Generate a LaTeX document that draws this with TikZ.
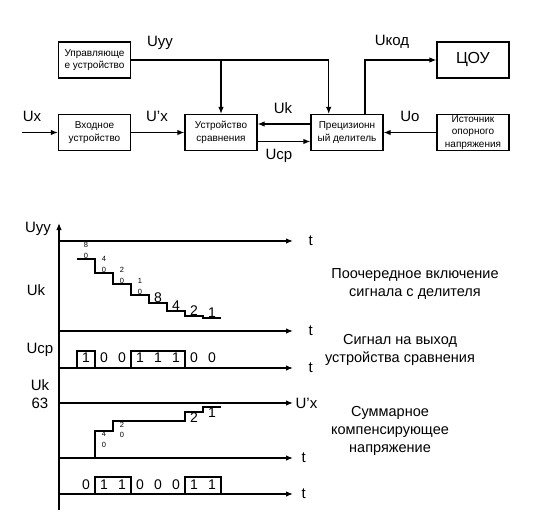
\documentclass[tikz,border=0pt]{standalone}
\usepackage{fontspec}
\setmainfont{Liberation Sans}
\usetikzlibrary{arrows.meta, calc}

\tikzset{
  blk/.style={draw, line width=1.2pt, minimum width=72pt, minimum height=36pt,
    inner sep=1pt, align=center, font=\fontsize{10}{12.5}\selectfont},
  sig/.style={line width=1.2pt, -{Latex[length=7pt,width=5.5pt]}},
  lbl/.style={font=\fontsize{15}{17}\selectfont, inner sep=0pt},
  axis/.style={line width=1.3pt, -{Latex[length=7pt,width=5.5pt]}},
  wave/.style={line width=1.2pt},
  dig/.style={font=\fontsize{14}{16}\selectfont, inner sep=0.6pt},
  small/.style={font=\fontsize{7.5}{10.5}\selectfont, inner sep=0.6pt, align=center},
  note/.style={font=\fontsize{14.5}{18}\selectfont, align=center}
}

\begin{document}
\begin{tikzpicture}[x=1pt, y=-1pt]
\useasboundingbox (0,0) rectangle (533,516);

% block diagram
\node[blk] (ctrl) at (94.5,60) {Управляюще\\е устройство};
\node[blk] (inp) at (94.5,132.5) {Входное\\устройство};
\node[blk] (cmp) at (221,132.5) {Устройство\\сравнения};
\node[blk] (div) at (347,132.5) {Прецизионн\\ый делитель};
\node[blk, font=\fontsize{16}{18}\selectfont] (cou) at (473,60) {ЦОУ};
\node[blk] (src) at (473,132.5) {Источник\\опорного\\напряжения};
\coordinate (in) at (22,132.5);

\draw[sig] (in) -- (inp);
\draw[sig] (inp) -- (cmp);
\draw[sig] (ctrl.east) -| ($(div.north west)!0.25!(div.north east)$);
\draw[sig] (cmp.north |- ctrl.east) -- (cmp.north);
\draw[sig] ([yshift=8.5pt]div.west) -- ([yshift=8.5pt]cmp.east);
\draw[sig] ([yshift=-9pt]cmp.east) -- ([yshift=-9pt]div.west);
\draw[sig] ([xshift=18pt]div.north) |- (cou);
\draw[sig] (src) -- (div);

\node[lbl] (uyy) at (160,43) {Uуу};
\node[lbl] (ux) at (32,116) {Ux};
\node[lbl] (uxp) at (157,116) {U’x};
\node[lbl] (uk) at (283,108) {Uk};
\node[lbl] (ucp) at (279,156) {Uср};
\node[lbl] (ukod) at (392,42) {Uкод};
\node[lbl] (uo) at (410,116) {Uo};

% timing diagrams
\draw[axis] (59,510) -- (59,223);
\foreach \y/\txt/\gap in {241/t/15, 331/t/15, 368/t/15, 403/U’x/2, 458/t/8, 494/t/8}
  \draw[axis] (59,\y) -- (293,\y) node[lbl, anchor=west, xshift=\gap pt] {\txt};

\node[lbl] (yuyy) at (38,229) {Uуу};
\node[lbl] (yuk) at (36,290) {Uk};
\node[lbl] (yucp) at (40,350) {Uср};
\node[lbl, align=center, font=\fontsize{15}{18}\selectfont] (yuk63) at (40,394) {Uk\\63};

% stepwise divider signal
\draw[wave] (77,259) -| (95,273) -| (113,284) -| (131,295) -| (149,303)
  -| (167,311) -| (185,316) -| (203,318) -- (221,318);
\foreach \x/\y/\d in {86/259/8, 104/273/4, 122/284/2, 140/295/1}
  \node[small, anchor=south] at (\x,\y) {\d\\0};
\foreach \x/\y/\d in {158/303/8, 176/311/4, 194/316/2, 212/318/1}
  \node[dig, anchor=south] at (\x,\y) {\d};

% comparator output
\draw[wave] (77,368) |- (95,351) -- (95,368);
\draw[wave] (131,368) |- (185,351) -- (185,368);
\foreach \d [count=\i] in {1,0,0,1,1,1,0,0}
  \node[dig] at (68+18*\i,358) {\d};

% summed compensating voltage
\draw[wave] (95,458) |- (113,431) |- (185,421) |- (203,412) |- (221,407);
\node[small, anchor=north] at (104,431) {4\\0};
\node[small, anchor=north] at (122,421) {2\\0};
\node[dig, anchor=north] at (194,412) {2};
\node[dig, anchor=north] at (212,407) {1};

% result code
\draw[wave] (95,494) |- (131,477) -- (131,494);
\draw[wave] (185,494) |- (221,477) -- (221,494);
\foreach \d [count=\i] in {0,1,1,0,0,0,1,1}
  \node[dig] at (68+18*\i,485) {\d};

\node[note] (n1) at (415,284) {Поочередное включение\\сигнала с делителя};
\node[note] (n2) at (400,350) {Сигнал на выход\\устройства сравнения};
\node[note] (n3) at (390,431) {Суммарное\\компенсирующее\\напряжение};
\end{tikzpicture}
\end{document}
